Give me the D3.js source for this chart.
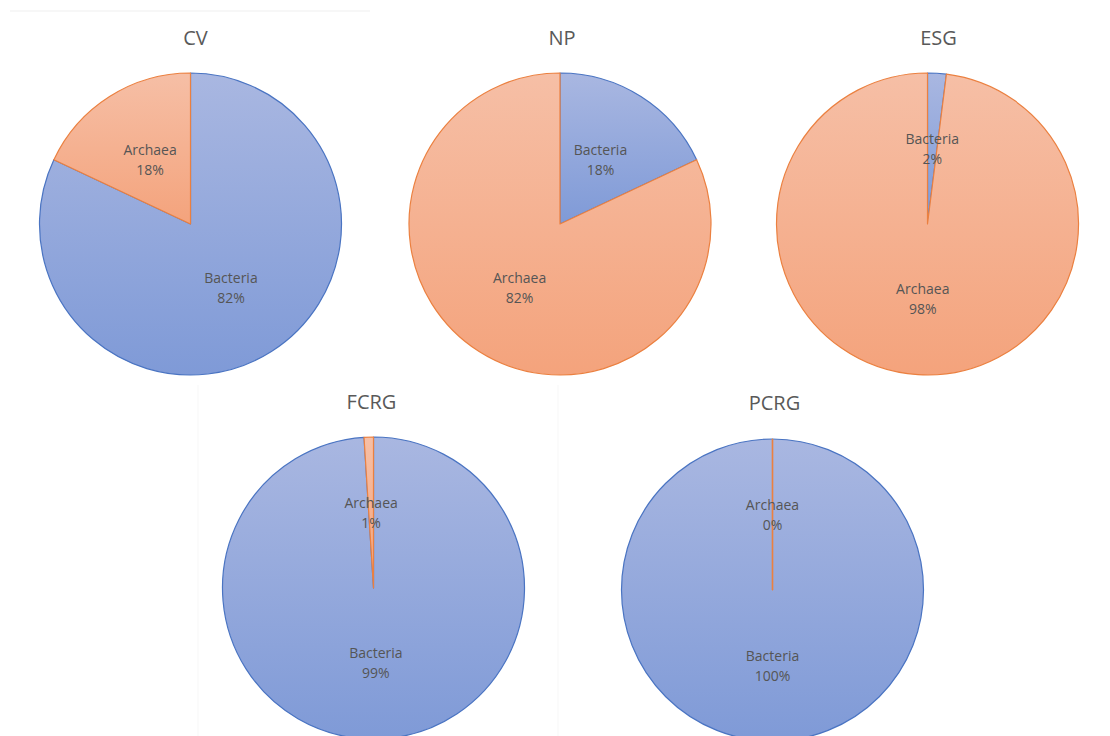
<!DOCTYPE html>
<html>
<head>
<meta charset="utf-8">
<script src="https://cdn.jsdelivr.net/npm/d3@7"></script>
<style>
  body { margin: 0; background: #fff; }
  svg { display: block; }
</style>
</head>
<body>
<svg id="vis"></svg>
<script>
// Layout
let width = 1110,
    height = 736;
let radius = 151;

// Data
let sites = ["CV", "NP", "ESG", "FCRG", "PCRG"];
let groups = ["Bacteria", "Archaea"];
let bacteria = [82, 18, 2, 99, 100];
let archaea = [18, 82, 98, 1, 0];

// pie centres
let centers = [[190.5, 224], [560, 224], [927.5, 224], [373.5, 588], [772.5, 590]];
let titleY = [38, 38, 38, 402, 403];

let fills = { Bacteria: "url(#gradBlue)", Archaea: "url(#gradOrange)" };
let strokes = { Bacteria: "#4a74c2", Archaea: "#eb8040" };

let svg = d3.select("#vis")
    .attr("width", width)
    .attr("height", height);

// gradients
let defs = svg.append("defs");
function addGradient(id, top, bottom) {
    let grad = defs.append("linearGradient")
        .attr("id", id)
        .attr("x1", 0).attr("y1", 0)
        .attr("x2", 0).attr("y2", 1);
    grad.append("stop").attr("offset", "0%").attr("stop-color", top);
    grad.append("stop").attr("offset", "100%").attr("stop-color", bottom);
}
addGradient("gradBlue", "#a9b7e1", "#7f9ad7");
addGradient("gradOrange", "#f6bfa6", "#f4a37c");

// faint chart frames
svg.append("line")
    .attr("x1", 10).attr("x2", 370)
    .attr("y1", 11).attr("y2", 11)
    .attr("stroke", "#efefef");
svg.append("line")
    .attr("x1", 198).attr("x2", 198)
    .attr("y1", 385).attr("y2", 736)
    .attr("stroke", "#f7f7f7");
svg.append("line")
    .attr("x1", 558).attr("x2", 558)
    .attr("y1", 385).attr("y2", 736)
    .attr("stroke", "#f7f7f7");

let pie = d3.pie().sort(null).value(d => d.value);
let arc = d3.arc().innerRadius(0).outerRadius(radius);

sites.forEach(function(site, i) {
    let data = [
        { group: "Bacteria", value: bacteria[i] },
        { group: "Archaea", value: archaea[i] }
    ];
    let g = svg.append("g")
        .attr("transform", "translate(" + centers[i][0] + "," + centers[i][1] + ")");

    let slices = pie(data);

    g.selectAll("path")
        .data(slices)
        .join("path")
        .attr("d", arc)
        .attr("fill", d => fills[d.data.group])
        .attr("stroke", d => strokes[d.data.group])
        .attr("stroke-width", 1.2)
        .attr("stroke-linejoin", "round");

    // zero-size slice still shows as a line in Excel
    slices.filter(d => d.value === 0).forEach(function(d) {
        let a = d.startAngle;
        g.append("line")
            .attr("x1", 0).attr("y1", 0)
            .attr("x2", radius * Math.sin(a))
            .attr("y2", -radius * Math.cos(a))
            .attr("stroke", strokes[d.data.group])
            .attr("stroke-width", 1.5);
    });

    // labels
    let labels = g.selectAll("text.lbl")
        .data(slices)
        .join("text")
        .attr("class", "lbl")
        .attr("transform", d => "translate(" + arc.centroid(d) + ")")
        .attr("text-anchor", "middle")
        .attr("font-family", "'Open Sans', sans-serif")
        .attr("font-size", "14px")
        .attr("fill", "#555555");
    labels.append("tspan")
        .attr("x", 0).attr("y", -5)
        .text(d => d.data.group);
    labels.append("tspan")
        .attr("x", 0).attr("y", 15)
        .text(d => d.data.value + "%");

    // title
    svg.append("text")
        .attr("x", centers[i][0] + (i == 0 ? 5 : i == 2 ? 11 : i == 3 ? -2 : 2))
        .attr("y", titleY[i])
        .attr("dy", "0.35em")
        .attr("text-anchor", "middle")
        .attr("font-family", "'Open Sans', sans-serif")
        .attr("font-size", "20px")
        .attr("fill", "#595959")
        .text(site);
});
</script>
</body>
</html>
